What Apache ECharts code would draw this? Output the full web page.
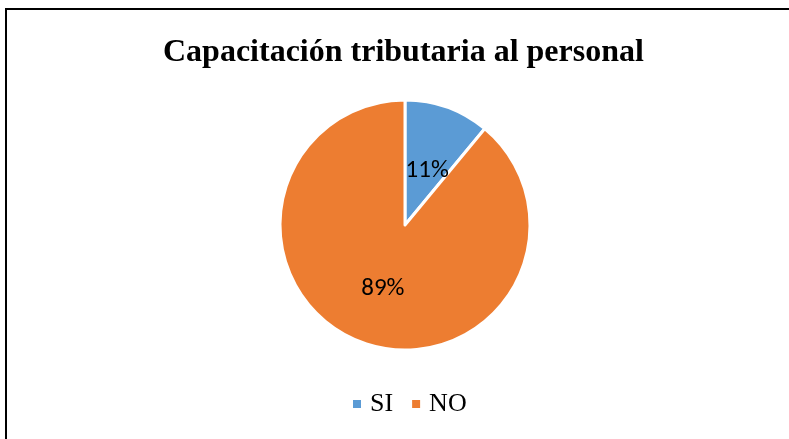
<!DOCTYPE html>
<html>
<head>
<meta charset="utf-8">
<script src="https://cdn.jsdelivr.net/npm/echarts@6/dist/echarts.min.js"></script>
<style>
  html, body { margin: 0; padding: 0; background: #fff; }
  #chart { width: 789px; height: 439px; }
</style>
</head>
<body>
<div id="chart"></div>
<script>
var categories = ['SI', 'NO'];
var values = [11, 89];
var colors = ['#5B9BD5', '#ED7D31'];
// small vertical nudge of each inside label, to sit it like the original
var labelDy = [7, 2];

var chart = echarts.init(document.getElementById('chart'));

var pieData = categories.map(function (name, i) {
    return { name: name, value: values[i], itemStyle: { color: colors[i] } };
});

chart.setOption({
    animation: false,
    graphic: [{
        type: 'rect',
        shape: { x: 6, y: 9, width: 800, height: 460 },
        style: { fill: 'none', stroke: '#000', lineWidth: 2 }
    }],
    title: {
        text: 'Capacitación tributaria al personal',
        left: 158,
        top: 32,
        textStyle: {
            fontFamily: 'Liberation Serif',
            fontWeight: 'bold',
            fontSize: 32,
            color: '#000'
        }
    },
    legend: {
        top: 386,
        left: 346,
        icon: 'rect',
        itemWidth: 10,
        itemHeight: 10,
        itemGap: 17,
        textStyle: {
            fontFamily: 'Liberation Serif',
            fontSize: 26,
            color: '#000',
            padding: [0, 0, 0, 3]
        },
        data: categories
    },
    series: [{
        type: 'pie',
        center: [405, 225],
        radius: [0, 125],
        startAngle: 90,
        clockwise: true,
        itemStyle: { borderColor: '#fff', borderWidth: 3 },
        label: {
            position: 'inside',
            formatter: '{d}%',
            fontFamily: 'Carlito, Liberation Sans, sans-serif',
            fontSize: 25,
            color: '#000'
        },
        labelLayout: function (params) {
            return { dy: labelDy[params.dataIndex] };
        },
        labelLine: { show: false },
        data: pieData
    }]
});
</script>
</body>
</html>
